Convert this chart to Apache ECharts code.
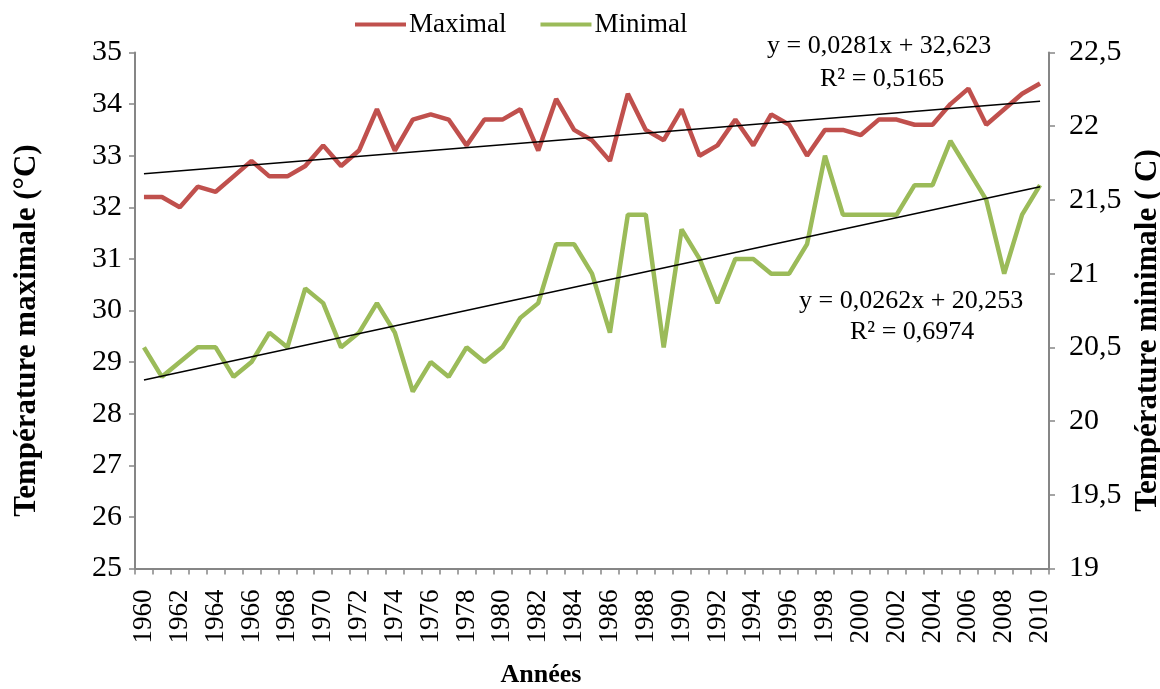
<!DOCTYPE html>
<html>
<head>
<meta charset="utf-8">
<script src="https://cdn.jsdelivr.net/npm/echarts@6/dist/echarts.min.js"></script>
<style>html,body{margin:0;padding:0;background:#fff;}#c{width:1160px;height:689px;}</style>
</head>
<body>
<div id="c"></div>
<script>
var years = [];
for (var y = 1960; y <= 2010; y++) years.push(String(y));

var maximal = [32.2,32.2,32.0,32.4,32.3,32.6,32.9,32.6,32.6,32.8,
               33.2,32.8,33.1,33.9,33.1,33.7,33.8,33.7,33.2,33.7,
               33.7,33.9,33.1,34.1,33.5,33.3,32.9,34.2,33.5,33.3,
               33.9,33.0,33.2,33.7,33.2,33.8,33.6,33.0,33.5,33.5,
               33.4,33.7,33.7,33.6,33.6,34.0,34.3,33.6,33.9,34.2,34.4];

var minimal = [20.5,20.3,20.4,20.5,20.5,20.3,20.4,20.6,20.5,20.9,
               20.8,20.5,20.6,20.8,20.6,20.2,20.4,20.3,20.5,20.4,
               20.5,20.7,20.8,21.2,21.2,21.0,20.6,21.4,21.4,20.5,
               21.3,21.1,20.8,21.1,21.1,21.0,21.0,21.2,21.8,21.4,
               21.4,21.4,21.4,21.6,21.6,21.9,21.7,21.5,21.0,21.4,21.6];

// Trendline coefficients as printed on the chart (x = 1..51)
var trendMax = {slope: 0.0281, intercept: 32.623, label1: 'y = 0,0281x + 32,623', label2: 'R² = 0,5165'};
var trendMin = {slope: 0.0262, intercept: 20.253, label1: 'y = 0,0262x + 20,253', label2: 'R² = 0,6974'};

var leftTicks = [25, 35, 1];
var rightTicks = [19, 22.5, 0.5];

function trendData(t) {
  var n = years.length;
  return [[years[0], t.intercept + t.slope * 1], [years[n - 1], t.intercept + t.slope * n]];
}

var FONT = "'Liberation Serif', 'Times New Roman', serif";
var axisGray = '#868686';

var chart = echarts.init(document.getElementById('c'));
chart.setOption({
  animation: false,
  backgroundColor: '#fff',
  textStyle: {fontFamily: FONT, color: '#000'},
  legend: {
    data: ['Maximal', 'Minimal'],
    top: 6,
    left: 350,
    itemWidth: 51,
    itemHeight: 4,
    itemGap: 34,
    icon: 'rect',
    textStyle: {fontFamily: FONT, fontSize: 27, color: '#000', padding: [0, 0, 0, -2]}
  },
  grid: {left: 135, right: 111, top: 52.5, bottom: 120.5, containLabel: false, outerBoundsMode: 'none'},
  xAxis: {
    type: 'category',
    data: years,
    boundaryGap: true,
    name: 'Années',
    nameLocation: 'middle',
    nameGap: 94,
    nameTextStyle: {fontFamily: FONT, fontSize: 26, fontWeight: 'bold', color: '#000', padding: [0, 102, 0, 0]},
    axisLine: {lineStyle: {color: axisGray, width: 2}},
    axisTick: {show: true, interval: 0, length: 6, lineStyle: {color: axisGray, width: 1.5}},
    axisLabel: {interval: 1, rotate: 90, margin: 21, fontFamily: FONT, fontSize: 27, color: '#000'},
    splitLine: {show: false}
  },
  yAxis: [{
    type: 'value',
    min: leftTicks[0], max: leftTicks[1], interval: leftTicks[2],
    position: 'left',
    name: 'Température maximale (°C)',
    nameLocation: 'middle',
    nameRotate: 90,
    nameGap: 93,
    nameTextStyle: {fontFamily: FONT, fontSize: 31, fontWeight: 'bold', color: '#000', padding: [0, 40, 0, 0]},
    axisLine: {show: true, lineStyle: {color: axisGray, width: 2}},
    axisTick: {show: true, length: 6, lineStyle: {color: axisGray, width: 1.5}},
    axisLabel: {margin: 13, fontFamily: FONT, fontSize: 30, color: '#000'},
    splitLine: {show: false}
  }, {
    type: 'value',
    min: rightTicks[0], max: rightTicks[1], interval: rightTicks[2],
    position: 'right',
    name: 'Température minimale ( C)',
    nameLocation: 'middle',
    nameRotate: 90,
    nameGap: 72,
    nameTextStyle: {fontFamily: FONT, fontSize: 31, fontWeight: 'bold', color: '#000', padding: [0, 40, 0, 0]},
    axisLine: {show: true, lineStyle: {color: axisGray, width: 2}},
    axisTick: {show: true, length: 6, lineStyle: {color: axisGray, width: 1.5}},
    axisLabel: {margin: 20, fontFamily: FONT, fontSize: 30, color: '#000',
      formatter: function (v) { return String(v).replace('.', ','); }},
    splitLine: {show: false}
  }],
  series: [{
    name: 'Minimal',
    type: 'line',
    yAxisIndex: 1,
    data: minimal,
    symbol: 'none',
    color: '#9BBB59',
    lineStyle: {color: '#9BBB59', width: 4.5},
    z: 2
  }, {
    name: 'Maximal',
    type: 'line',
    yAxisIndex: 0,
    data: maximal,
    symbol: 'none',
    color: '#C0504D',
    lineStyle: {color: '#C0504D', width: 4.5},
    z: 3
  }, {
    name: 'Tendance max',
    type: 'line',
    yAxisIndex: 0,
    data: trendData(trendMax),
    symbol: 'none',
    lineStyle: {color: '#000', width: 1.6},
    z: 4
  }, {
    name: 'Tendance min',
    type: 'line',
    yAxisIndex: 1,
    data: trendData(trendMin),
    symbol: 'none',
    lineStyle: {color: '#000', width: 1.6},
    z: 4
  }],
  graphic: [
    {type: 'text', left: 767, top: 33, style: {text: trendMax.label1, font: "26px " + FONT, fill: '#000'}},
    {type: 'text', left: 820, top: 66, style: {text: trendMax.label2, font: "26px " + FONT, fill: '#000'}},
    {type: 'text', left: 799, top: 288, style: {text: trendMin.label1, font: "26px " + FONT, fill: '#000'}},
    {type: 'text', left: 850, top: 319, style: {text: trendMin.label2, font: "26px " + FONT, fill: '#000'}}
  ]
});
</script>
</body>
</html>
